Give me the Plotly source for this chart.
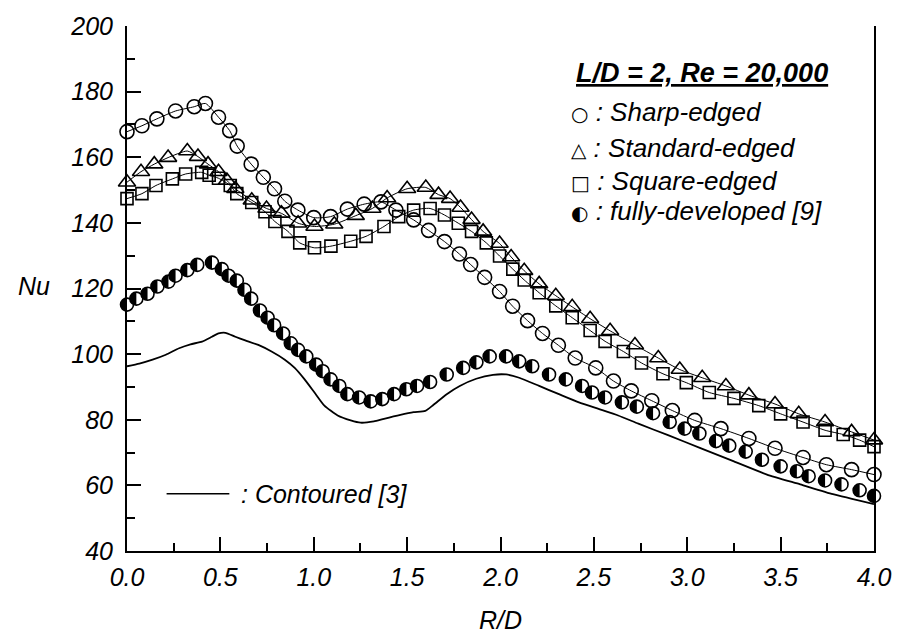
import plotly.graph_objects as go

# ---------------- data ----------------
sharp_x = [0.0, 0.08, 0.16, 0.26, 0.36, 0.42, 0.49, 0.55, 0.59, 0.665, 0.73, 0.79, 0.845, 0.915,
           1.0, 1.09, 1.18, 1.27, 1.36, 1.44, 1.535, 1.615, 1.70, 1.78, 1.84, 1.915, 1.995, 2.065,
           2.145, 2.225, 2.31, 2.40, 2.51, 2.605, 2.70, 2.81, 2.92, 3.04, 3.18, 3.33, 3.47, 3.62,
           3.745, 3.88, 4.0]
sharp_nu = [167.8, 169.6, 171.7, 174.1, 175.4, 176.4, 172.2, 168.1, 163.4, 157.9, 153.9, 150.4,
            146.6, 143.9, 141.6, 141.9, 144.2, 145.7, 146.4, 143.9, 140.9, 137.7, 134.3, 130.5,
            127.3, 123.4, 119.1, 114.6, 110.2, 106.3, 102.7, 98.8, 95.8, 91.8, 88.8, 85.8, 82.8,
            79.8, 77.3, 74.3, 71.3, 68.5, 66.3, 64.8, 63.3]

standard_x = [0.0, 0.075, 0.146, 0.22, 0.323, 0.38, 0.434, 0.49, 0.535, 0.58, 0.668, 0.747, 0.827,
              0.916, 1.004, 1.11, 1.225, 1.314, 1.393, 1.50, 1.60, 1.668, 1.73, 1.786, 1.845, 1.907,
              1.995, 2.057, 2.127, 2.207, 2.296, 2.384, 2.48, 2.587, 2.72, 2.845, 2.96, 3.08, 3.207,
              3.33, 3.47, 3.597, 3.738, 3.88, 4.0]
standard_nu = [152.4, 155.6, 157.9, 159.9, 161.9, 160.2, 157.9, 155.6, 152.9, 150.4, 146.9, 144.4,
               142.9, 139.9, 138.9, 139.6, 142.2, 144.4, 147.6, 150.4, 150.8, 148.6, 147.4, 144.7,
               141.0, 137.4, 133.7, 129.6, 125.4, 121.4, 117.8, 114.4, 110.8, 107.1, 102.8, 98.8,
               95.3, 92.8, 90.3, 87.5, 84.8, 81.8, 79.3, 76.3, 73.8]

square_x = [0.0, 0.08, 0.155, 0.243, 0.314, 0.40, 0.44, 0.49, 0.553, 0.588, 0.668, 0.739, 0.792,
            0.862, 0.925, 1.004, 1.092, 1.198, 1.28, 1.376, 1.455, 1.535, 1.623, 1.70, 1.774, 1.845,
            1.924, 1.995, 2.066, 2.127, 2.207, 2.296, 2.384, 2.48, 2.56, 2.658, 2.755, 2.87, 2.995,
            3.118, 3.25, 3.383, 3.50, 3.62, 3.738, 3.835, 3.923, 4.0]
square_nu = [147.4, 148.9, 151.4, 153.4, 154.9, 155.4, 154.5, 153.6, 151.4, 148.9, 146.2, 143.4,
             140.4, 137.4, 133.9, 132.4, 132.9, 134.4, 135.9, 138.9, 141.9, 143.9, 144.4, 142.4,
             139.9, 137.4, 133.9, 129.9, 125.9, 122.6, 118.7, 114.7, 111.1, 107.2, 103.9, 100.8,
             97.3, 94.0, 91.3, 88.3, 86.5, 84.3, 81.8, 79.3, 76.8, 75.5, 73.8, 71.8]

fully_x = [0.0, 0.05, 0.11, 0.163, 0.222, 0.26, 0.323, 0.376, 0.455, 0.508, 0.544, 0.588, 0.629,
           0.665, 0.712, 0.753, 0.788, 0.836, 0.877, 0.916, 0.96, 1.013, 1.048, 1.09, 1.137, 1.18,
           1.243, 1.305, 1.367, 1.43, 1.496, 1.553, 1.623, 1.712, 1.80, 1.871, 1.942, 2.03, 2.10,
           2.17, 2.26, 2.35, 2.437, 2.49, 2.56, 2.65, 2.73, 2.817, 2.906, 2.986, 3.065, 3.154,
           3.225, 3.313, 3.40, 3.50, 3.587, 3.65, 3.738, 3.826, 3.923, 4.0]
fully_nu = [115.1, 116.9, 118.4, 120.6, 122.1, 123.9, 125.6, 127.2, 127.9, 125.9, 123.9, 122.4,
            119.6, 116.9, 113.3, 111.1, 108.8, 106.3, 103.3, 101.3, 99.3, 96.8, 94.8, 92.3, 90.3,
            87.8, 86.8, 85.6, 86.3, 87.8, 89.3, 90.3, 91.5, 93.8, 95.8, 97.5, 99.3, 99.3, 97.8,
            96.3, 93.8, 92.3, 90.3, 88.3, 86.8, 85.3, 84.0, 82.0, 79.3, 77.3, 75.8, 73.5, 72.1,
            70.3, 67.8, 65.8, 64.3, 62.8, 61.5, 60.3, 58.5, 56.8]

contour_x = [0.0, 0.066, 0.137, 0.208, 0.279, 0.34, 0.402, 0.455, 0.49, 0.527, 0.58, 0.633, 0.703,
             0.774, 0.845, 0.898, 0.951, 1.004, 1.057, 1.128, 1.198, 1.251, 1.322, 1.376, 1.464,
             1.535, 1.597, 1.64, 1.712, 1.782, 1.87, 1.96, 2.03, 2.10, 2.207, 2.313, 2.42, 2.525,
             2.63, 2.738, 2.897, 3.074, 3.25, 3.427, 3.605, 3.78, 4.0]
contour_nu = [96.3, 97.1, 98.3, 99.8, 101.8, 103.0, 103.8, 105.3, 106.3, 106.5, 105.3, 104.2, 102.8,
              100.8, 98.3, 95.8, 92.3, 88.3, 84.3, 81.3, 79.8, 79.1, 79.5, 80.3, 81.5, 82.3, 82.7,
              84.5, 87.8, 90.3, 92.5, 93.7, 93.8, 92.8, 90.3, 87.8, 85.3, 83.3, 81.3, 78.8, 75.3,
              71.3, 67.3, 63.3, 60.3, 57.3, 54.3]

x_ticks = [0.0, 0.5, 1.0, 1.5, 2.0, 2.5, 3.0, 3.5, 4.0]
x_ticktext = ["0.0", "0.5", "1.0", "1.5", "2.0", "2.5", "3.0", "3.5", "4.0"]
y_ticks = [40, 60, 80, 100, 120, 140, 160, 180, 200]
y_ticktext = ["40", "60", "80", "100", "120", "140", "160", "180", "200"]

# ---------------- figure ----------------
FONT = "Liberation Sans, Arial, Helvetica, sans-serif"
SYM = "DejaVu Sans"
HALF = 13  # half-filled marker diameter (px)

fig = go.Figure()

fig.add_trace(go.Scatter(x=contour_x, y=contour_nu, mode="lines",
                         line=dict(color="black", width=1.8, shape="spline", smoothing=0.5),
                         name="Contoured [3]", cliponaxis=False))

line_style = dict(color="black", width=1, shape="spline", smoothing=0.6)

# fully-developed: connecting line, then half-filled markers built point by point
fig.add_trace(go.Scatter(x=fully_x, y=fully_nu, mode="lines", line=line_style,
                         name="fully-developed [9]", cliponaxis=False))
for xi, yi in zip(fully_x, fully_nu):
    fig.add_trace(go.Scatter(x=[xi], y=[yi], mode="markers", cliponaxis=False,
                             marker=dict(symbol="circle", size=HALF, color="black",
                                         line=dict(width=0))))
    fig.add_trace(go.Scatter(x=[xi], y=[yi], mode="markers", cliponaxis=False,
                             marker=dict(symbol="square", size=HALF, color="white",
                                         angle=-90, standoff=HALF / 2,
                                         line=dict(width=0))))
    fig.add_trace(go.Scatter(x=[xi], y=[yi], mode="markers", cliponaxis=False,
                             marker=dict(symbol="circle-open", size=HALF, color="black",
                                         line=dict(width=1.6, color="black"))))

fig.add_trace(go.Scatter(x=sharp_x, y=sharp_nu, mode="lines+markers", line=line_style,
                         marker=dict(symbol="circle-open", size=14, color="black",
                                     line=dict(width=1.6, color="black")),
                         name="Sharp-edged", cliponaxis=False))
fig.add_trace(go.Scatter(x=standard_x, y=standard_nu, mode="lines+markers", line=line_style,
                         marker=dict(symbol="triangle-up-open", size=15, color="black",
                                     line=dict(width=1.6, color="black")),
                         name="Standard-edged", cliponaxis=False))
fig.add_trace(go.Scatter(x=square_x, y=square_nu, mode="lines+markers", line=line_style,
                         marker=dict(symbol="square-open", size=12, color="black",
                                     line=dict(width=1.6, color="black")),
                         name="Square-edged", cliponaxis=False))

axis_common = dict(showgrid=False, zeroline=False, showline=True, linecolor="black", linewidth=2,
                   ticks="inside", tickcolor="black", tickwidth=2, ticklen=14,
                   tickfont=dict(family=FONT, size=25, color="black", style="italic"))

fig.update_xaxes(range=[0, 4], tickvals=x_ticks, ticktext=x_ticktext, mirror=False,
                 ticklabelstandoff=3,
                 minor=dict(dtick=0.25, ticks="inside", ticklen=8, tickwidth=2, tickcolor="black"),
                 **axis_common)
fig.update_yaxes(range=[40, 200], tickvals=y_ticks, ticktext=y_ticktext, mirror=True,
                 ticklabelstandoff=7,
                 minor=dict(dtick=10, ticks="inside", ticklen=8, tickwidth=2, tickcolor="black"),
                 **axis_common)

ann_font = dict(family=FONT, size=25, color="black", style="italic")
leg_font = dict(family=FONT, size=26, color="black", style="italic")
annotations = [
    dict(text="Nu", x=-0.125, y=0.505, xref="paper", yref="paper", showarrow=False,
         xanchor="center", yanchor="middle", font=ann_font),
    dict(text="R/D", x=0.5, y=-0.131, xref="paper", yref="paper", showarrow=False,
         xanchor="center", yanchor="middle", font=ann_font),
    dict(text="<b><u>L/D = 2, Re = 20,000</u></b>", x=0.7695, y=0.910, xref="paper",
         yref="paper", showarrow=False, xanchor="center", yanchor="middle",
         font=dict(family=FONT, size=27, color="black", style="italic")),
]
legend_rows = [("○", "Sharp-edged", 0.837), ("△", "Standard-edged", 0.767),
               ("□", "Square-edged", 0.705), ("◐", "fully-developed [9]", 0.647)]
for glyph, label, yy in legend_rows:
    annotations.append(dict(
        text=f'<span style="font-family:{SYM};font-style:normal;font-size:20px">{glyph}</span> : {label}',
        x=0.5915, y=yy, xref="paper", yref="paper", showarrow=False,
        xanchor="left", yanchor="middle", font=leg_font))
annotations.append(dict(text=": Contoured [3]", x=0.15, y=0.109, xref="paper", yref="paper",
                        showarrow=False, xanchor="left", yanchor="middle", font=ann_font))

fig.update_layout(
    width=903, height=638,
    margin=dict(l=127, r=22, t=18, b=87),
    paper_bgcolor="white", plot_bgcolor="white",
    showlegend=False,
    annotations=annotations,
    shapes=[dict(type="line", xref="paper", yref="paper", x0=0.053, x1=0.137, y0=0.109, y1=0.109,
                 line=dict(color="black", width=1.5))],
)

fig.write_html("out.html")
